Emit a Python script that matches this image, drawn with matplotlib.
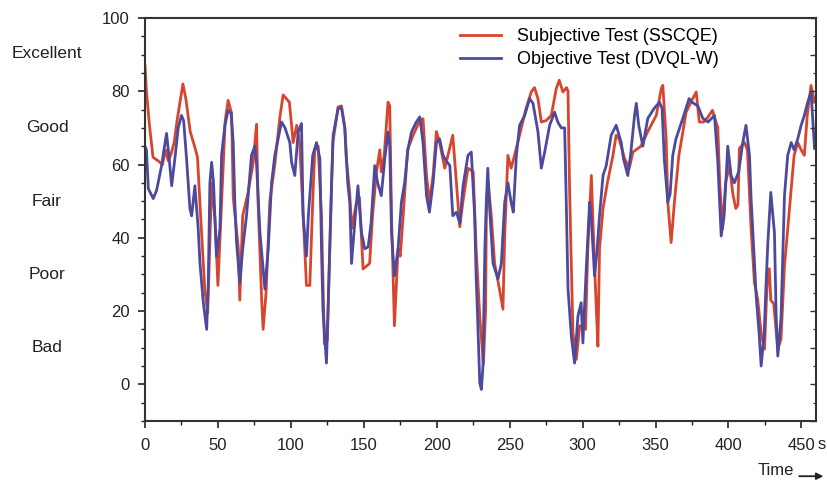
import matplotlib
matplotlib.use("Agg")
import matplotlib.pyplot as plt
from matplotlib.ticker import MultipleLocator

plt.rcParams['font.family'] = ['Liberation Sans', 'DejaVu Sans']

# subjective test (SSCQE): time in s, score
subj_t = [0, 1, 3, 5.5, 9, 12, 14, 16, 18, 20, 22, 24, 26, 28, 31, 34, 36, 38, 41, 43,
          45.7, 48, 50, 52, 55, 57, 59.4, 60.5, 64, 65, 67, 70.5, 74, 76.5, 77.5, 80, 81, 83,
          85.6, 89, 92.5, 94.7, 99, 101.6, 104, 106, 108, 110.7, 113, 115, 116.4, 118.7, 121,
          123, 125, 126.7, 128.8, 132.4, 134.7, 137, 138, 140.4, 141.6, 145, 147, 149.5, 154,
          156, 158.7, 161, 162, 164, 166.6, 167.8, 169, 171, 173.5, 175, 177, 180, 183.8, 188,
          190.6, 193, 195, 197.5, 199.8, 202, 205.5, 207.7, 211, 213.5, 215.8, 218, 221.4, 225,
          227, 229.5, 232, 233.5, 234, 235, 237.4, 239.7, 243, 245.4, 246.6, 248.8, 251, 253,
          256.8, 261, 264.8, 267, 269.4, 271.7, 275, 278.5, 282, 284, 286.5, 289, 290, 291, 292,
          293.4, 295.7, 298, 302, 303.6, 306, 307.5, 309.4, 310.5, 311.6, 314, 317, 320.8, 323,
          325, 328.8, 332, 334.5, 340, 344.7, 350.5, 354, 355, 357.3, 358.4, 360.7, 363, 366,
          371, 375.5, 377.9, 380, 383, 386, 389, 392.7, 394, 396, 398, 400.7, 403, 405, 406.5,
          407.5, 411, 413, 415.5, 417.8, 420, 422.4, 424.7, 426, 427, 428, 429, 431, 433.8, 436,
          438.4, 440.6, 443, 445, 447.5, 449.8, 452, 454, 456.6, 459]
subj_v = [87, 80, 71, 62, 61, 60, 64, 61, 63, 66, 72, 77, 82, 78, 69, 65, 62, 47, 26, 19.5,
          55, 45, 27, 45, 72, 77.5, 74, 51, 37, 23, 46, 52, 60, 71, 50, 23, 15, 25,
          50, 60, 73, 79, 77, 66, 70.7, 66, 50, 27, 27, 50, 64, 65, 46,
          11, 12, 37, 66, 75.7, 76, 70, 61.6, 52, 42.5, 49.7, 51, 31.5, 33,
          46, 58, 64, 58, 62.5, 77, 76, 46, 16, 37, 35, 46, 64, 68, 71.6,
          72.5, 57, 49.7, 57, 69, 66, 59, 62.5, 68, 55, 43, 50, 59, 58,
          37, 18.6, 5.5, 20, 46, 56, 46, 33, 26, 20.5, 40.5, 62.5, 59, 62,
          68, 75, 79.8, 81, 78, 71.6, 72, 73.4, 80.8, 83, 79.8, 81, 80, 55, 37,
          14, 6.8, 16, 15, 37, 57, 40, 20.5, 10.4, 37, 48, 55, 62.5, 68,
          67, 61.6, 59, 63.4, 65, 69, 73.4, 80.8, 81.6, 67, 49.7, 38.7, 50, 62.5,
          74.3, 78, 79.8, 71.6, 71.6, 73, 74.8, 70, 55, 42.5, 55, 59.7, 52, 48, 49,
          64.4, 66, 64, 42.5, 27.7, 23.3, 14, 9.6, 23, 31.5, 31.5, 23, 22, 9.6, 12.3,
          32.3, 42.5, 53.4, 62.5, 66, 64, 62.5, 73.4, 81.6, 77]

# objective test (DVQL-W)
obj_t = [0, 1, 2.3, 5.7, 8, 11.4, 13, 14.8, 16.5, 18.3, 20.5, 22.8, 25, 26.5, 28.5, 30.8, 32,
         34.2, 36.5, 37.7, 40, 42.3, 43.4, 44.5, 45.7, 47, 49, 51.4, 52.5, 54.8, 57, 59, 60.5,
         61.6, 62.8, 65, 67, 69.6, 73, 75.3, 76.5, 78.8, 81, 82.2, 84.5, 86.8, 89, 91.3, 93.6,
         96, 99.3, 100.5, 102.7, 105, 107.3, 108.4, 110.7, 112, 113, 115, 117.6, 119.9, 121,
         122, 124.4, 125.5, 127.9, 129, 132.4, 134.7, 137, 139, 140.4, 141.6, 143.8, 146,
         148.4, 150.7, 153, 155, 157.5, 159.5, 162, 164.4, 166.6, 167.8, 169, 171, 173.5,
         175.8, 178, 180.4, 182.7, 186, 188.4, 190.6, 193, 195, 197.5, 199.8, 202, 204.3,
         206.5, 209, 211, 213.5, 215.8, 218, 221.4, 223.7, 226, 227, 228, 229.5, 230.6, 231.7,
         233, 234, 235, 236.3, 238.6, 242, 244.3, 246.6, 248.8, 251, 252.5, 254.6, 256.8,
         260.3, 263.7, 266, 269.4, 271.7, 274, 277.4, 280.8, 283, 285.4, 287.7, 288.8, 290,
         292.3, 294.5, 296.8, 299, 300.2, 302.5, 304.8, 306, 308.2, 310, 311.6, 314, 316.2,
         319.6, 323, 326.5, 328, 331, 333, 335.6, 336.8, 338.5, 341.3, 344.7, 349, 352.7,
         354.5, 356, 358.4, 360, 361.8, 364, 368.7, 373, 375, 379, 382.4, 386, 390.4, 392.7,
         395, 397, 399.5, 401.8, 404, 407, 409.8, 412, 414.4, 415.5, 416.6, 419, 421, 422.4,
         424.5, 425.8, 427, 429, 431.5, 432.7, 433.8, 436, 438.4, 440.6, 443, 445, 447.5,
         449.8, 452, 454.3, 456.6, 459]
obj_v = [65, 64, 53.4, 50.7, 53, 59.7, 64, 68.5, 62, 54.2, 61.6, 70, 73.4, 72, 61.6, 48, 46,
         54.2, 42.5, 33, 22.3, 15, 27.7, 55, 60.6, 55, 35, 42.5, 62.5, 70.7, 74.8, 74, 66,
         49.7, 38.7, 27.7, 37, 46, 62.5, 65, 60, 41.5, 31.5, 26, 37, 55, 62.5, 67, 71.6,
         70, 66, 60.6, 57, 68.9, 71.2, 46, 35, 46, 51.5, 62.5, 66, 61.6, 37,
         20.5, 5.8, 20.5, 55, 68, 75.3, 75.5, 70, 55, 49.7, 33, 44, 54.2,
         41.5, 37, 37.5, 44, 59.7, 55, 51.5, 61.6, 68.9, 65, 41.5, 29.6, 37,
         49.7, 55, 64.4, 68.9, 71.6, 73, 66, 51.5, 47, 55, 66, 67, 62.5,
         61, 59.7, 46, 47, 44, 54, 62.5, 63.4, 46, 29.6, 18.6, 0.4, -1.4, 5,
         37, 49.7, 59, 48, 33, 28.8, 33, 49.7, 55, 49.7, 47, 62.5, 70.7,
         73.4, 78, 76.7, 68.9, 59, 63.4, 70.7, 74.3, 71.6, 70, 70, 49.7, 26,
         13, 5.8, 18.6, 22.3, 11.3, 31.5, 49.7, 45, 29.6, 37, 46, 57, 59.7,
         68, 70.7, 66, 61.6, 57, 63, 73.4, 76.7, 70.7, 65, 72.6, 75.3, 77,
         75.3, 61.6, 49.7, 52, 62.5, 67, 72.6, 78, 77, 76, 72.6, 71.6, 73.4, 60.6,
         40.5, 46, 65, 57, 55, 58, 66, 70.7, 62.5, 50.7, 42.5, 24, 14, 5,
         14, 27.7, 38.7, 52.4, 41.5, 18.6, 7.7, 18, 51.5, 62.5, 66, 64, 67,
         70.7, 73.4, 77, 79.8, 64.4]

quality_labels = ['Excellent', 'Good', 'Fair', 'Poor', 'Bad']
quality_levels = [90.4, 70, 50, 30, 10]
x_ticks = [0, 50, 100, 150, 200, 250, 300, 350, 400, 450]
y_ticks = [0, 20, 40, 60, 80, 100]

red = '#d8452e'
blue = '#4b4a9e'
ink = '#222222'

fig = plt.figure(figsize=(8.27, 4.82), dpi=100)
ax = fig.add_axes([0.1753, 0.1266, 0.8114, 0.8361])

ax.plot(subj_t, subj_v, color=red, lw=2.0, label='Subjective Test (SSCQE)')
ax.plot(obj_t, obj_v, color=blue, lw=2.0, label='Objective Test (DVQL-W)')

ax.set_xlim(0, 460)
ax.set_ylim(-10, 100)
ax.set_xticks(x_ticks)
ax.set_yticks(y_ticks)
ax.xaxis.set_minor_locator(MultipleLocator(25))
ax.yaxis.set_minor_locator(MultipleLocator(5))
ax.tick_params(axis='both', which='major', direction='out', length=5, width=1.2,
               labelsize=12, colors=ink)
ax.tick_params(axis='x', which='major', pad=7)
ax.tick_params(axis='y', which='major', pad=6)
ax.tick_params(axis='both', which='minor', direction='out', length=3, width=1.0,
               colors=ink)
for sp in ax.spines.values():
    sp.set_linewidth(1.5)
    sp.set_color('#333333')

# inward ticks on the right spine
ax_r = ax.twinx()
ax_r.set_ylim(-10, 100)
ax_r.yaxis.set_major_locator(MultipleLocator(10))
ax_r.yaxis.set_minor_locator(MultipleLocator(5))
ax_r.tick_params(axis='y', which='major', direction='in', length=4, width=1.0,
                 labelright=False, colors='#333333')
ax_r.tick_params(axis='y', which='minor', direction='in', length=2, width=0.8,
                 colors='#333333')
for sp in ax_r.spines.values():
    sp.set_visible(False)

for lab, lev in zip(quality_labels, quality_levels):
    ax.text(-0.146, lev, lab, transform=ax.get_yaxis_transform(), ha='center',
            va='center', fontsize=12.5, color=ink)

ax.text(1.002, -0.04, 's', transform=ax.transAxes, ha='left', va='top',
        fontsize=12, color=ink)
fig.text(0.916, 0.023, 'Time', ha='left', va='center', fontsize=12, color=ink)
ax.annotate('', xy=(0.999, 0.012), xytext=(0.963, 0.012), xycoords='figure fraction',
            arrowprops=dict(arrowstyle='-|>', color=ink, lw=1.3, mutation_scale=10))

ax.legend(loc='upper left', bbox_to_anchor=(0.469, 0.975), frameon=False, fontsize=13,
          handlelength=2.3, handletextpad=0.9, labelspacing=0.35, borderpad=0,
          borderaxespad=0)

fig.savefig('out.png', dpi=100)
